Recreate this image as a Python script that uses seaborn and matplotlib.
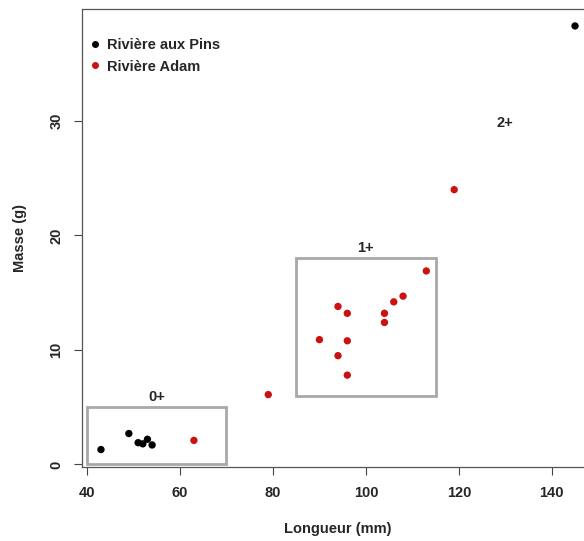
import numpy as np
import pandas as pd
import seaborn as sns
import matplotlib.pyplot as plt
from matplotlib.patches import Rectangle
from matplotlib.lines import Line2D

sns.set_style('white')
plt.rcParams['font.family'] = ['Liberation Sans', 'DejaVu Sans']
plt.rcParams['font.weight'] = 'bold'
plt.rcParams['axes.labelweight'] = 'bold'
plt.rcParams['font.size'] = 10.5

# données
pins_longueur = [43, 49, 51, 52, 53, 54, 145]
pins_masse = [1.3, 2.7, 1.9, 1.8, 2.2, 1.7, 38.3]
adam_longueur = [63, 79, 90, 94, 94, 96, 96, 96, 104, 104, 106, 108, 113, 119]
adam_masse = [2.1, 6.1, 10.9, 13.8, 9.5, 13.2, 10.8, 7.8, 13.2, 12.4, 14.2, 14.7, 16.9, 24.0]
rivieres = ['Rivière aux Pins', 'Rivière Adam']
couleurs = ['black', '#cc1111']

# classes d'âge : étiquette, position du texte, cadre (x0, y0, x1, y1)
classes = ['0+', '1+', '2+']
classes_xy = [(55, 5.9), (100, 18.9), (130, 29.8)]
classes_cadre = [(40, 0, 70, 5), (85, 6, 115, 18), None]

x_ticks = [40, 60, 80, 100, 120, 140]
y_ticks = [0, 10, 20, 30]

df = pd.concat([
    pd.DataFrame({'longueur': pins_longueur, 'masse': pins_masse, 'riviere': rivieres[0]}),
    pd.DataFrame({'longueur': adam_longueur, 'masse': adam_masse, 'riviere': rivieres[1]}),
])

#%%
fig = plt.figure(figsize=(5.84, 5.41), dpi=100)
ax = fig.add_axes([82/584, (541-466.5)/541, (594-82)/584, (466.5-9)/541])

sns.scatterplot(data=df, x='longueur', y='masse', hue='riviere', hue_order=rivieres,
                palette=couleurs, s=28, linewidth=0, legend=False, ax=ax, zorder=3)

for lab, (tx, ty), cadre in zip(classes, classes_xy, classes_cadre):
    if cadre is not None:
        x0, y0, x1, y1 = cadre
        ax.add_patch(Rectangle((x0, y0), x1 - x0, y1 - y0, fill=False,
                               edgecolor='#a8a8a8', linewidth=2, zorder=2))
    ax.text(tx, ty, lab, ha='center', va='center', fontweight='bold')

ax.set_xlim(38.92, 149.08)
ax.set_ylim(-0.18, 39.78)
ax.set_xticks(x_ticks)
ax.set_yticks(y_ticks)
ax.tick_params(direction='out', length=5.8, width=0.8, color='#444444', bottom=True, left=True)
ax.tick_params(axis='x', pad=8)
ax.tick_params(axis='y', pad=7.5, labelrotation=90)
for t in ax.get_yticklabels():
    t.set_va('center')
for sp in ax.spines.values():
    sp.set_color('#555555')
    sp.set_linewidth(0.9)

ax.set_xlabel('Longueur (mm)')
ax.set_ylabel('Masse (g)')
ax.xaxis.set_label_coords(0.5, (466.5-522)/457.5)
ax.yaxis.set_label_coords((27-82)/512, 0.5)

poignees = [Line2D([], [], marker='o', linestyle='', color=c, markersize=4) for c in couleurs]
ax.legend(poignees, rivieres, loc='upper left', bbox_to_anchor=(0.016, 0.936), frameon=False,
          handlelength=0.6, handletextpad=0.55, borderpad=0, borderaxespad=0, labelspacing=0.5,
          prop={'weight': 'bold', 'size': 10.5})

fig.savefig('out.png', dpi=100)
